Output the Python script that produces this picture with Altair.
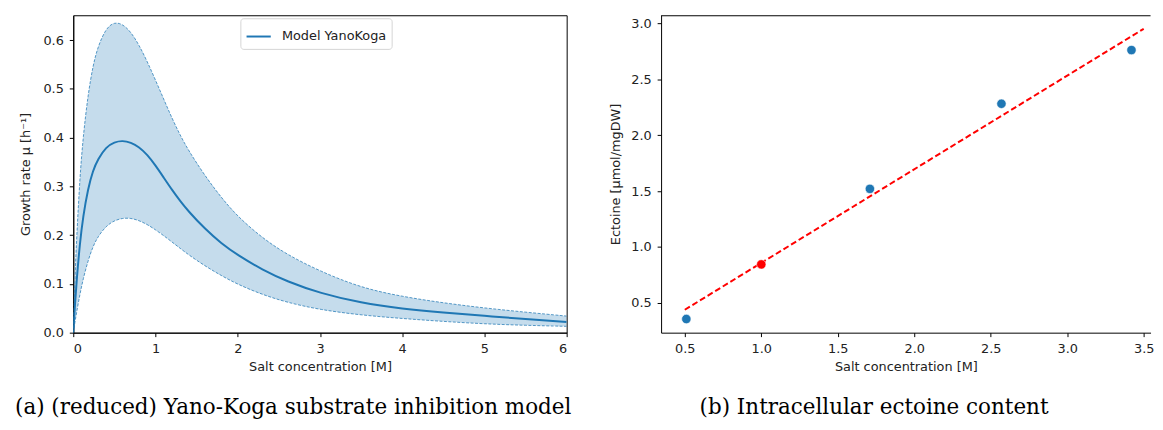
import altair as alt
import pandas as pd

# ---- Panel (a): growth rate model ----
salt = [0, 0.02, 0.04, 0.08, 0.12, 0.18, 0.24, 0.3, 0.4, 0.5, 0.6, 0.7, 0.8, 0.9, 1.0,
        1.1, 1.2, 1.3, 1.4, 1.6, 1.8, 2.0, 2.3, 2.6, 3.0, 3.5, 4.0, 4.5, 5.0, 5.5, 6.0]
mu_upper = [0, 0.11, 0.19, 0.318, 0.402, 0.489, 0.548, 0.587, 0.625, 0.637, 0.633,
            0.617, 0.590, 0.556, 0.518, 0.479, 0.440, 0.405, 0.374, 0.322, 0.277,
            0.238, 0.194, 0.160, 0.126, 0.092, 0.074, 0.061, 0.0505, 0.042, 0.034]
mu_model = [0, 0.055, 0.105, 0.183, 0.239, 0.296, 0.333, 0.356, 0.381, 0.391, 0.394,
            0.390, 0.381, 0.365, 0.343, 0.318, 0.293, 0.270, 0.249, 0.213, 0.183,
            0.159, 0.129, 0.105, 0.081, 0.061, 0.049, 0.041, 0.0345, 0.028, 0.022]
mu_lower = [0, 0.021, 0.041, 0.078, 0.110, 0.148, 0.177, 0.197, 0.219, 0.230, 0.235,
            0.235, 0.230, 0.222, 0.211, 0.199, 0.186, 0.173, 0.160, 0.137, 0.117,
            0.099, 0.078, 0.062, 0.047, 0.036, 0.029, 0.023, 0.018, 0.015, 0.013]

# ---- Panel (b): intracellular ectoine ----
ect_salt = [0.51, 1.71, 2.57, 3.42]
ect_val = [0.357, 1.52, 2.28, 2.76]
ref_salt = [1.0]
ref_val = [0.845]
fit_salt = [0.5, 3.5]
fit_val = [0.44, 2.95]

BLUE = "#1f77b4"
FONT = "DejaVu Sans"
CAPFONT = "DejaVu Serif"
TXT = "#222222"
FS = 13

def axis(title, values, fmt, tp, lp=6):
    return alt.Axis(title=title, values=values, format=fmt, grid=False,
                    tickSize=4, tickColor="black", domainColor="black",
                    labelPadding=lp, labelFont=FONT, labelFontSize=FS,
                    labelColor=TXT, titleFont=FONT, titleFontSize=FS,
                    titleFontWeight="normal", titleColor=TXT, titlePadding=tp)

dfa = pd.DataFrame({"salt": salt, "lower": mu_lower, "model": mu_model,
                    "upper": mu_upper, "series": "Model YanoKoga"})

W1, H = 499, 321
xa = alt.X("salt:Q", scale=alt.Scale(domain=[0, 6], nice=False, zero=False),
           axis=axis("Salt concentration [M]", [0, 1, 2, 3, 4, 5, 6], "d", 5))
ya_axis = axis("Growth rate µ [h⁻¹]", [0, 0.1, 0.2, 0.3, 0.4, 0.5, 0.6], ".1f", 11)
yscale = alt.Scale(domain=[0, 0.651], nice=False, zero=False)

INTERP = "basis"
base_a = alt.Chart(dfa)
band = base_a.mark_area(color=BLUE, opacity=0.26, interpolate=INTERP, clip=True).encode(
    x=xa, y=alt.Y("lower:Q", scale=yscale, axis=ya_axis), y2="upper:Q")
up = base_a.mark_line(color=BLUE, opacity=0.75, strokeWidth=1, strokeDash=[3, 1.5],
                      interpolate=INTERP, clip=True).encode(
    x="salt:Q", y=alt.Y("upper:Q", scale=yscale))
lo = base_a.mark_line(color=BLUE, opacity=0.75, strokeWidth=1, strokeDash=[3, 1.5],
                      interpolate=INTERP, clip=True).encode(
    x="salt:Q", y=alt.Y("lower:Q", scale=yscale))
mid = base_a.mark_line(strokeWidth=2, interpolate=INTERP, clip=True).encode(
    x="salt:Q", y=alt.Y("model:Q", scale=yscale),
    color=alt.Color("series:N", scale=alt.Scale(range=[BLUE]),
                    legend=alt.Legend(title=None, orient="none", legendX=169, legendY=3,
                                      symbolType="stroke", symbolSize=600,
                                      symbolStrokeWidth=2, labelFont=FONT,
                                      labelFontSize=FS, labelColor=TXT, labelOffset=10,
                                      padding=5, strokeColor="#d5d5d5",
                                      fillColor="white", cornerRadius=3)))

left = alt.layer(band, up, lo, mid).properties(
    width=W1, height=H,
    view=alt.ViewBackground(stroke="black", strokeWidth=1),
    title=alt.TitleParams("(a) (reduced) Yano-Koga substrate inhibition model",
                          orient="bottom", font=CAPFONT, fontSize=21.7,
                          fontWeight="normal", color="black", offset=24,
                          anchor="middle", frame="bounds"))

# ---- right panel ----
W2 = 495
xb_scale = alt.Scale(domain=[0.345, 0.345 + W2 / 154.7], nice=False, zero=False)
yb_scale = alt.Scale(domain=[0.235, 3.071], nice=False, zero=False)
xb_axis = axis("Salt concentration [M]", [0.5, 1.0, 1.5, 2.0, 2.5, 3.0, 3.5], ".1f", 5)
yb_axis = axis("Ectoine [µmol/mgDW]", [0.5, 1.0, 1.5, 2.0, 2.5, 3.0], ".1f", 8)

dpts = pd.DataFrame({"salt": ect_salt, "ect": ect_val})
dref = pd.DataFrame({"salt": ref_salt, "ect": ref_val})
dfit = pd.DataFrame({"salt": fit_salt, "ect": fit_val})

fit = alt.Chart(dfit).mark_line(color="red", strokeWidth=2, strokeDash=[6, 3], clip=True).encode(
    x=alt.X("salt:Q", scale=xb_scale, axis=xb_axis),
    y=alt.Y("ect:Q", scale=yb_scale, axis=yb_axis))
pts = alt.Chart(dpts).mark_circle(size=90, color=BLUE, opacity=1, stroke="white",
                                  strokeWidth=0.6).encode(
    x=alt.X("salt:Q", scale=xb_scale), y=alt.Y("ect:Q", scale=yb_scale))
refp = alt.Chart(dref).mark_circle(size=90, color="red", opacity=1, stroke="white",
                                   strokeWidth=0.6).encode(
    x=alt.X("salt:Q", scale=xb_scale), y=alt.Y("ect:Q", scale=yb_scale))
topline = alt.Chart(dref).mark_rule(color="black", strokeWidth=1).encode(
    x=alt.value(0), x2=alt.value(W2), y=alt.value(0.5))

right = alt.layer(fit, pts, refp, topline).properties(
    width=W2, height=H,
    view=alt.ViewBackground(stroke="transparent"),
    title=alt.TitleParams("(b) Intracellular ectoine content",
                          orient="bottom", font=CAPFONT, fontSize=21.7,
                          fontWeight="normal", color="black", offset=24,
                          anchor="middle", frame="bounds", dx=-8))

chart = alt.hconcat(left, right, spacing=36.5).properties(
    padding={"left": 6, "top": 4, "right": 0, "bottom": 0}
).configure(background="white")

chart.save("out.html", embed_options={"renderer": "svg", "actions": False})
